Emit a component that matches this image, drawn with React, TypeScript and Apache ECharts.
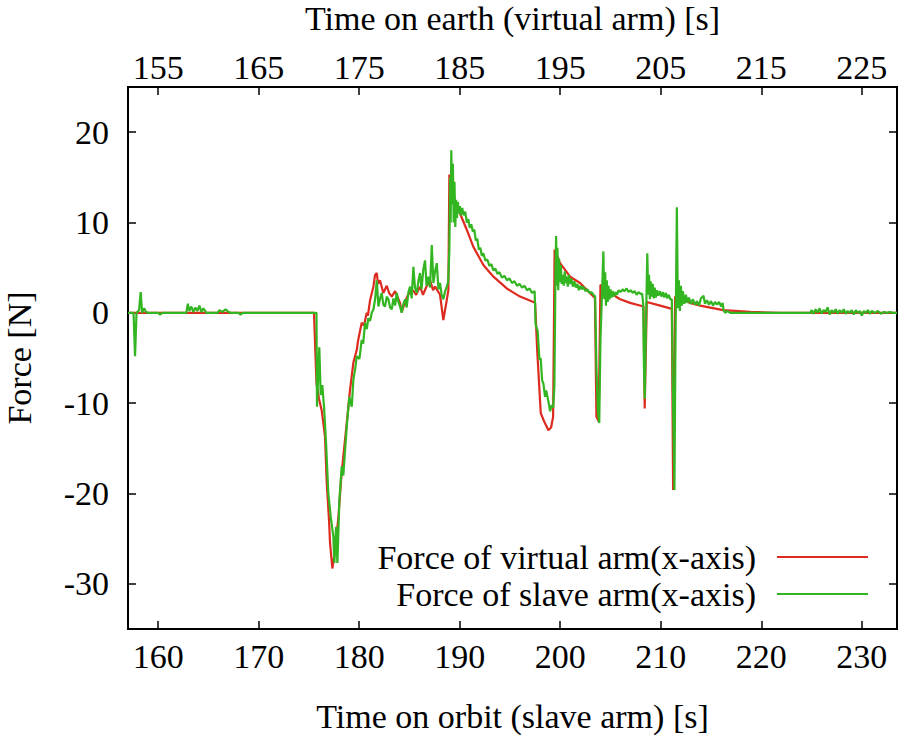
import React, { useEffect, useRef } from "react";
import * as echarts from "echarts";

const bottomTicks = [160, 170, 180, 190, 200, 210, 220, 230];
const topTicks = [155, 165, 175, 185, 195, 205, 215, 225];
const yTicks = [-30, -20, -10, 0, 10, 20];

const seriesNames = ["Force of virtual arm(x-axis)", "Force of slave arm(x-axis)"];

const virtualArm: [number, number][] = [
  [157, 0], [175.5, 0], [175.75, -7.8], [176.0, -9.5], [176.27, -10.8], [176.6, -13.7],
  [176.77, -18.8], [177.0, -23], [177.1, -25.5], [177.33, -28.3], [177.6, -26.3],
  [177.93, -22.6], [178.2, -18.5], [178.42, -15.9], [178.76, -12.2], [179.09, -8.5],
  [179.42, -5.5], [179.76, -4.1], [179.9, -3.0], [180.25, -1.1], [180.48, -1.4],
  [180.75, 0], [180.87, -0.3], [181.08, 1.4], [181.41, 2.9], [181.58, 4.2], [181.75, 4.4],
  [181.87, 3.2], [182.07, 3.6], [182.4, 2.2], [182.74, 3.0], [182.97, 2.2], [183.24, 1.8],
  [183.57, 2.4], [184.06, 1.1], [184.23, 0.1], [184.56, 1.2], [184.86, 2.0], [185.36, 2.5],
  [185.66, 2.0], [186.05, 2.9], [186.35, 2.0], [186.65, 2.8], [187.05, 3.6], [187.35, 2.5],
  [187.55, 2.9], [188.04, 2.0], [188.37, -0.8], [188.71, 1.4], [188.87, 2.5], [188.97, 15.3],
  [189.24, 13.5], [189.64, 12.0], [190.03, 11.0], [190.7, 9.2], [191.36, 7.3], [192.35, 5.3],
  [193.35, 4.0], [194.68, 2.7], [196.0, 1.8], [197.33, 1.2], [197.5, 1.1], [197.7, -4],
  [198.06, -11.1], [198.39, -12.0], [198.82, -13.0], [199.09, -12.7], [199.29, -11.5],
  [199.44, 7.0], [199.98, 5.5], [200.98, 4.0], [201.97, 3.3], [203.3, 1.8], [203.45, 1.7],
  [203.6, -11.5], [203.82, -12.0], [204.0, 3.1], [204.96, 2.2], [205.96, 1.5], [206.95, 1.1],
  [208.11, 0.75], [208.28, 0.7], [208.4, -10.6], [208.61, 1.2], [209.94, 0.8], [210.93, 0.5],
  [211.1, 0.5], [211.23, -19.6], [211.43, 1.8], [212.92, 1.1], [213.92, 0.8], [216.2, 0.3],
  [218.89, 0.1], [221.87, 0], [233.5, 0],
];

const slaveArm: [number, number][] = [
  [157, 0], [157.55, 0], [157.7, -4.8], [157.85, 0], [158.1, 0.3], [158.26, 2.3], [158.4, 0],
  [158.6, 0.5], [158.8, 0.1], [159, 0], [160, 0], [160.2, -0.2], [160.4, 0], [162.8, 0],
  [162.95, 1.0], [163.1, 0.2], [163.3, 0.7], [163.5, 0.1], [163.7, 0.6], [163.9, 0.2],
  [164.1, 0.8], [164.3, 0.1], [164.5, 0.5], [164.8, 0], [165.9, 0], [166.1, 0.3], [166.4, 0.1],
  [166.7, 0.4], [167, 0.1], [167.2, 0], [168, 0], [168.2, -0.2], [168.4, 0], [175.75, 0],
  [175.8, -10.4], [176.03, -3.8], [176.17, -9.1], [176.33, -8], [176.5, -10.4], [176.7, -14.4],
  [176.93, -20], [177.17, -22.6], [177.43, -24.8], [177.53, -27.7], [177.7, -23.7],
  [177.83, -27.7], [178.03, -20.7], [178.26, -17], [178.42, -18], [178.76, -12.6],
  [179.02, -9.3], [179.26, -10.4], [179.42, -7.4], [179.6, -6.2], [179.76, -4.8], [180.02, -5.1],
  [180.25, -3], [180.4, -3.4], [180.58, -1.1], [180.75, -1.8], [180.91, -0.6], [181.08, -0.9],
  [181.25, 0], [181.42, 0.4], [181.58, 1.5], [181.75, 3.6], [181.91, 0.7], [182.08, 1.6],
  [182.24, 2.2], [182.4, 0.9], [182.57, 0.7], [182.74, 1.8], [182.9, 1.5], [183.07, 0.6],
  [183.24, 0.4], [183.4, 1.6], [183.57, 0.8], [183.73, 2.2], [183.9, 1.2], [184.06, 0.7],
  [184.23, 0], [184.4, 1.0], [184.56, 1.5], [184.72, 0.6], [184.9, 2.3], [185.06, 2.9],
  [185.22, 1.6], [185.39, 5.1], [185.55, 2.8], [185.73, 2.2], [185.9, 3.6], [186.05, 4.4],
  [186.2, 2.6], [186.38, 4.8], [186.55, 5.8], [186.7, 3.0], [186.88, 4.0], [187.05, 2.8],
  [187.22, 7.5], [187.38, 3.3], [187.55, 4.6], [187.72, 5.5], [187.88, 2.6], [188.04, 3.3],
  [188.2, 2.0], [188.37, 1.5], [188.55, 2.4], [188.71, 2.9], [188.85, 3.4], [188.97, 7],
  [189.05, 15], [189.1, 10], [189.16, 18.0], [189.24, 12], [189.32, 16.5], [189.4, 10],
  [189.48, 14.5], [189.56, 9.5], [189.64, 12.5], [189.72, 10.5], [189.82, 12.3], [189.92, 11],
  [190.02, 11.8], [190.12, 10.8], [190.25, 11.6], [190.4, 10.8], [190.55, 11.2], [190.7, 10.0],
  [190.85, 10.4], [191.0, 9.4], [191.15, 9.8], [191.3, 9.0], [191.45, 9.2], [191.6, 8.0],
  [191.75, 8.2], [191.9, 7.0], [192.05, 7.2], [192.2, 6.3], [192.35, 6.6], [192.55, 5.8],
  [192.75, 5.9], [192.95, 5.2], [193.15, 5.4], [193.35, 4.7], [193.55, 4.9], [193.75, 4.3],
  [193.95, 4.5], [194.2, 3.9], [194.45, 4.1], [194.7, 3.6], [194.95, 3.8], [195.2, 3.3],
  [195.45, 3.5], [195.7, 3.0], [195.95, 3.2], [196.2, 2.8], [196.45, 3.0], [196.7, 2.5],
  [196.95, 2.7], [197.2, 2.2], [197.45, 2.4], [197.55, -1.3], [197.75, -2], [197.93, -5.2],
  [198.05, -5.0], [198.2, -7.5], [198.32, -7.8], [198.49, -9.3], [198.6, -8.6], [198.82, -9.8],
  [198.99, -10.9], [199.15, -10.2], [199.3, -10.5], [199.42, -8], [199.52, 4], [199.59, 8.5],
  [199.65, 3], [199.72, 7.2], [199.8, 2.5], [199.88, 6], [199.96, 3.4], [200.05, 5.3],
  [200.15, 3.2], [200.25, 4.2], [200.35, 3.0], [200.45, 4.6], [200.55, 3.3], [200.65, 4.0],
  [200.75, 2.9], [200.85, 4.2], [200.95, 3.2], [201.1, 3.8], [201.25, 2.9], [201.4, 3.5],
  [201.55, 2.8], [201.7, 3.2], [201.85, 2.5], [202.0, 3.0], [202.15, 2.6], [202.3, 2.9],
  [202.5, 2.4], [202.7, 2.6], [202.9, 2.2], [203.1, 2.3], [203.3, 2.0], [203.47, 1.8],
  [203.6, -6], [203.75, -11], [203.88, -12.2], [204.0, -3], [204.15, 2], [204.29, 6.8],
  [204.38, 1.5], [204.47, 4.5], [204.55, 0.8], [204.63, 3.6], [204.72, 1.2], [204.8, 3.0],
  [204.9, 1.5], [205.0, 2.6], [205.1, 1.7], [205.2, 2.4], [205.35, 1.8], [205.5, 2.3],
  [205.65, 2.0], [205.8, 2.5], [206.0, 2.3], [206.2, 2.6], [206.4, 2.4], [206.6, 2.7],
  [206.8, 2.3], [207.0, 2.5], [207.2, 2.2], [207.4, 2.4], [207.6, 2.0], [207.8, 2.3],
  [208.0, 2.1], [208.15, 2.1], [208.25, 1.0], [208.33, -6], [208.41, -9.5], [208.5, -3],
  [208.58, 2], [208.66, 6.6], [208.75, 2], [208.83, 4.2], [208.92, 1.5], [209.0, 3.5],
  [209.1, 1.8], [209.2, 3.2], [209.3, 1.6], [209.4, 2.8], [209.5, 1.7], [209.6, 2.5],
  [209.75, 1.9], [209.9, 2.4], [210.05, 1.8], [210.2, 2.3], [210.35, 1.7], [210.5, 2.2],
  [210.65, 1.6], [210.8, 2.0], [210.95, 1.5], [211.1, 1.5], [211.2, -8], [211.36, -19.6],
  [211.45, -5], [211.6, 11.7], [211.7, 0.5], [211.8, 3.6], [211.9, 0.2], [212.0, 3.0],
  [212.1, 0.8], [212.2, 2.4], [212.35, 1.0], [212.5, 2.0], [212.65, 1.1], [212.8, 1.7],
  [213.0, 1.0], [213.2, 1.5], [213.4, 0.9], [213.6, 1.3], [213.8, 0.8], [214.0, 1.6],
  [214.25, 1.9], [214.4, 1.0], [214.6, 1.4], [214.8, 0.9], [215.0, 1.3], [215.2, 0.8],
  [215.4, 1.2], [215.6, 0.9], [215.8, 1.2], [216.0, 0.7], [216.15, 1.1], [216.25, 0.3],
  [216.4, 0.0], [216.6, 0.2], [216.9, 0], [224.9, 0], [225.0, 0.3], [225.2, -0.1],
  [225.4, 0.4], [225.6, 0], [225.8, 0.5], [226.0, -0.1], [226.2, 0.3], [226.4, 0.1],
  [226.6, 0.6], [226.8, -0.2], [227.0, 0.3], [227.2, 0], [227.4, 0.4], [227.6, -0.1],
  [227.8, 0.3], [228.0, 0], [228.2, 0.4], [228.4, -0.1], [228.6, 0.2], [228.8, 0],
  [229.0, 0.3], [229.2, -0.2], [229.4, 0.3], [229.6, 0], [229.8, 0.2], [230.0, -0.3],
  [230.2, 0.2], [230.4, 0], [230.6, 0.3], [230.8, -0.1], [231.0, 0.2], [231.3, 0],
  [231.6, 0.2], [231.9, -0.1], [232.2, 0.1], [232.5, 0], [232.8, 0.1], [233.1, 0], [233.5, 0],
];

const FONT = "Liberation Serif";
const FS = 34;

export default function App() {
  const ref = useRef<HTMLDivElement>(null);
  useEffect(() => {
    if (!ref.current) return;
    const chart = echarts.init(ref.current, undefined, { renderer: "svg" });
    const tickStyle = { color: "#000", width: 1.5 };
    const labelStyle = { color: "#000", fontFamily: FONT, fontSize: FS };
    const lineStyle = { color: "#000", width: 2 };
    chart.setOption({
      animation: false,
      backgroundColor: "#fff",
      textStyle: { fontFamily: FONT },
      grid: {
        left: 128, right: 1, top: 87, bottom: 108,
        show: true, borderColor: "#000", borderWidth: 2,
        containLabel: false, outerBoundsMode: "none",
      },
      legend: {
        data: seriesNames,
        orient: "vertical",
        align: "right",
        right: 30,
        top: 539,
        padding: 0,
        itemGap: 1,
        itemWidth: 91,
        itemHeight: 2,
        icon: "rect",
        textStyle: { fontFamily: FONT, fontSize: FS, color: "#000", lineHeight: 36, padding: [0, 16, 0, 0] },
      },
      xAxis: [
        {
          type: "value",
          position: "bottom",
          min: 157,
          max: 233.5,
          name: "Time on orbit (slave arm) [s]",
          nameLocation: "middle",
          nameGap: 70,
          nameTextStyle: labelStyle,
          axisLine: { show: true, onZero: false, lineStyle },
          axisTick: { show: true, inside: true, length: 8, lineStyle: tickStyle, customValues: bottomTicks },
          axisLabel: { ...labelStyle, margin: 10, customValues: bottomTicks },
          splitLine: { show: false },
        },
        {
          type: "value",
          position: "top",
          min: 152,
          max: 228.5,
          name: "Time on earth (virtual arm) [s]",
          nameLocation: "middle",
          nameGap: 52,
          nameTextStyle: labelStyle,
          axisLine: { show: true, onZero: false, lineStyle },
          axisTick: { show: true, inside: true, length: 8, lineStyle: tickStyle, customValues: topTicks },
          axisLabel: { ...labelStyle, margin: 3, customValues: topTicks },
          splitLine: { show: false },
        },
      ],
      yAxis: [
        {
          type: "value",
          position: "left",
          min: -35,
          max: 25,
          name: "Force [N]",
          nameLocation: "middle",
          nameGap: 92,
          nameRotate: 90,
          nameTextStyle: { ...labelStyle, lineHeight: 34 },
          axisLine: { show: true, onZero: false, lineStyle },
          axisTick: { show: true, inside: true, length: 8, lineStyle: tickStyle, customValues: yTicks },
          axisLabel: { ...labelStyle, margin: 19, customValues: yTicks },
          splitLine: { show: false },
        },
        {
          type: "value",
          position: "right",
          min: -35,
          max: 25,
          axisLine: { show: true, onZero: false, lineStyle },
          axisTick: { show: true, inside: true, length: 8, lineStyle: tickStyle, customValues: yTicks },
          axisLabel: { show: false },
          splitLine: { show: false },
        },
      ],
      series: [
        {
          name: seriesNames[0],
          type: "line",
          xAxisIndex: 0,
          yAxisIndex: 0,
          data: virtualArm,
          showSymbol: false,
          symbol: "none",
          lineStyle: { color: "#dd2b1f", width: 2.2 },
          itemStyle: { color: "#dd2b1f" },
          z: 2,
        },
        {
          name: seriesNames[1],
          type: "line",
          xAxisIndex: 0,
          yAxisIndex: 0,
          data: slaveArm,
          showSymbol: false,
          symbol: "none",
          lineStyle: { color: "#33b521", width: 2.2 },
          itemStyle: { color: "#33b521" },
          z: 3,
        },
      ],
    });
    return () => chart.dispose();
  }, []);
  return (
    <div
      ref={ref}
      style={{ position: "absolute", left: 0, top: 0, width: 898, height: 737, background: "#fff" }}
    />
  );
}
